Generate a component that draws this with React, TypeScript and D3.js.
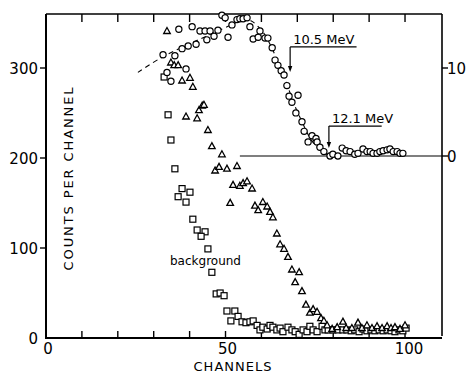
import React from "react";
import * as d3 from "d3";

const W = 466;
const H = 373;

// Signal (open circles), right-hand axis counts
const circleChannels = [32.6, 33.7, 34.8, 35.9, 37, 37.9, 39, 39.6, 40.7, 41.8, 42.9, 44.3, 44.8, 45.7, 46.8, 47.9, 49, 49.9, 50.7, 51.8, 53.2, 54, 54.9, 56, 56.8, 57.7, 59.1, 59.6, 61, 61.8, 63, 63.8, 64.6, 65.5, 66.3, 67.1, 67.7, 68.5, 69.6, 70.2, 71.3, 71.9, 73, 74.1, 75.2, 75.5, 76.3, 77.4, 79.1, 79.9, 81.3, 82.5, 83.6, 84.7, 86, 86.9, 88.3, 89.4, 90.3, 91.1, 92.2, 93, 93.9, 95, 95.8, 96.7, 97.8, 98.6, 99.4];
const circleCounts = [115, 95, 85, 114, 144, 122, 99, 125, 147, 127, 142, 142, 132, 142, 136, 143, 160, 157, 135, 149, 155, 156, 156, 157, 147, 133, 135, 142, 134, 134, 123, 109, 103, 97, 92, 80, 68, 61, 49, 69, 39, 28, 16, 23, 20, 16, 10, 5, 0, 2, 0, 9, 6, 5, 2, 3, 8, 5, 5, 3, 3, 5, 6, 7, 8, 5, 5, 3, 3];

// Dashed fit through the circles (right-hand axis)
const fitChannels = [25.6, 31.8, 38.7, 45.7, 52.1, 55.4, 57.4, 60.4, 62.4, 64.6, 66.9, 69.1, 71.3, 73.6, 75.8, 78.6];
const fitCounts = [95, 111, 125, 138, 150, 156, 153, 141, 127, 107, 84, 59, 39, 20, 9, 1];

// Triangles, left-hand axis counts
const triChannels = [33.7, 34.8, 35.7, 36.8, 37.9, 40.1, 40.9, 39, 42.1, 42.6, 43.5, 44, 45.1, 46.2, 49, 47.1, 48.2, 50.4, 53.2, 51.3, 52.1, 54, 54.9, 56, 57.4, 58.2, 59.1, 60.4, 61.6, 62.4, 63.2, 64.3, 65.2, 66.3, 67.4, 68.5, 70.5, 69.4, 71.3, 72.4, 73.5, 74.4, 75.5, 76.6, 77.4, 78.3, 79.7, 81.1, 82.7, 83.6, 85.2, 86.9, 88, 89.4, 90.8, 92.2, 93.6, 95, 96.1, 97.2, 98.6, 100];
const triCounts = [341, 306, 303, 303, 286, 289, 279, 246, 244, 253, 258, 259, 231, 213, 204, 186, 190, 188, 191, 150, 170, 169, 172, 174, 166, 147, 142, 151, 146, 140, 134, 116, 104, 99, 90, 76, 73, 62, 52, 37, 28, 32, 29, 22, 19, 14, 10, 12, 18, 11, 11, 17, 11, 14, 11, 13, 11, 13, 11, 12, 10, 14];

// Background (squares), left-hand axis counts
const bgChannels = [32.9, 34, 34.8, 35.9, 37.9, 40.1, 36.8, 39, 40.9, 42.1, 44.3, 43.2, 45.1, 46.2, 47.4, 48.5, 49.6, 50.4, 52.6, 51.5, 53.5, 54.6, 55.7, 56.8, 57.7, 58.8, 59.6, 60.4, 61.6, 62.4, 63.2, 64.3, 65.2, 66, 67.4, 68.5, 69.4, 70.5, 71.6, 72.7, 73.5, 74.4, 75.5, 76.9, 77.7, 78.6, 79.9, 81.3, 82.7, 83.8, 85, 86, 87.2, 88.3, 89.4, 90.5, 91.6, 92.8, 93.9, 95, 96.1, 97.2, 98.3, 99.4, 100.3];
const bgCounts = [290, 248, 220, 188, 166, 162, 157, 151, 132, 120, 118, 113, 99, 73, 49, 50, 47, 30, 30, 19, 24, 18, 17, 18, 19, 14, 9, 12, 10, 14, 12, 9, 11, 7, 12, 9, 7, 4, 9, 7, 13, 9, 7, 13, 9, 9, 9, 9, 9, 9, 8, 9, 7, 10, 8, 9, 8, 9, 8, 9, 8, 7, 9, 8, 11];

const xTicks = [0, 10, 20, 30, 40, 50, 60, 70, 80, 90, 100];
const xTickLabels = [0, 50, 100];
const yLeftTicks = [0, 100, 200, 300];
const yRightTicks = [0, 100];

const annotations = [
  { label: "10.5 MeV", channel: 68, tip: 95.5, shelf: 124, shelfEnd: 86.5 },
  { label: "12.1 MeV", channel: 78.8, tip: 9, shelf: 34, shelfEnd: 93.5 },
];

const FONT = "DejaVu Sans, sans-serif";

export default function App() {
  const left = 46, right = 442, top = 14, bottom = 338;
  const x = d3.scaleLinear().domain([0, 110.3]).range([left, right]);
  const yL = d3.scaleLinear().domain([0, 360]).range([bottom, top]);
  const yR = d3.scaleLinear().domain([0, 100]).range([156, 68]);

  const fitLine = d3
    .line<number>()
    .x((_, i) => x(fitChannels[i]))
    .y((d) => yR(d))
    .curve(d3.curveCatmullRom.alpha(0.5));

  const tickLen = 7;

  return (
    <svg
      width={W}
      height={H}
      style={{ position: "absolute", left: 0, top: 0, background: "#fff" }}
      fontFamily={FONT}
    >
      <rect x={0} y={0} width={W} height={H} fill="#fff" />
      {/* frame */}
      <g stroke="#000" fill="none">
        <line x1={left} y1={top} x2={right} y2={top} strokeWidth={1.6} />
        <line x1={left} y1={top} x2={left} y2={bottom} strokeWidth={2} />
        <line x1={left - 1} y1={bottom} x2={right} y2={bottom} strokeWidth={2} />
        <line x1={right} y1={top} x2={right} y2={bottom - 2} strokeWidth={1.6} />
        {/* right axis baseline */}
        <line x1={x(54)} y1={yR(0)} x2={right} y2={yR(0)} strokeWidth={1.2} />
      </g>
      {/* ticks */}
      <g stroke="#000" strokeWidth={1.4}>
        {xTicks.filter((t) => t > 0).map((t) => (
          <g key={"xt" + t}>
            <line x1={x(t)} x2={x(t)} y1={top} y2={top + tickLen + 1} />
            <line x1={x(t)} x2={x(t)} y1={bottom} y2={bottom - tickLen} />
          </g>
        ))}
        {yLeftTicks.filter((t) => t > 0).map((t) => (
          <line key={"yl" + t} x1={left - 6} x2={left} y1={yL(t)} y2={yL(t)} />
        ))}
        {yRightTicks.map((t) => (
          <line key={"yr" + t} x1={right} x2={right + 6} y1={yR(t)} y2={yR(t)} />
        ))}
      </g>
      {/* tick labels */}
      <g fontSize={15} fill="#000">
        {xTickLabels.map((t) => (
          <text key={"xl" + t} x={x(t) + (t === 100 ? 4 : 2)} y={354} textAnchor="middle">
            {t}
          </text>
        ))}
        {yLeftTicks.map((t) => (
          <text key={"yll" + t} x={38} y={yL(t) + 5.5} textAnchor="end">
            {t}
          </text>
        ))}
        {yRightTicks.map((t) => (
          <text key={"yrl" + t} x={447} y={yR(t) + 5.5} textAnchor="start">
            {t}
          </text>
        ))}
      </g>
      {/* axis titles */}
      <text
        x={233}
        y={371}
        textAnchor="middle"
        fontSize={13}
        letterSpacing={1}
        fill="#000"
      >
        CHANNELS
      </text>
      <text
        transform={`translate(73,178) rotate(-90)`}
        textAnchor="middle"
        fontSize={13}
        letterSpacing={1.9}
        fill="#000"
      >
        COUNTS PER CHANNEL
      </text>
      <text x={170} y={265} fontSize={12} fill="#000">
        background
      </text>

      {/* dashed fit */}
      <path d={fitLine(fitCounts) || ""} fill="none" stroke="#000" strokeWidth={1.1} strokeDasharray="5,4" />

      {/* background squares */}
      <g fill="#fff" stroke="#000" strokeWidth={1.2}>
        {bgChannels.map((c, i) => (
          <rect key={"b" + i} x={x(c) - 3} y={yL(bgCounts[i]) - 3} width={6} height={6} />
        ))}
      </g>
      {/* triangles */}
      <g fill="#fff" stroke="#000" strokeWidth={1.3} strokeLinejoin="miter">
        {triChannels.map((c, i) => {
          const cx = x(c);
          const cy = yL(triCounts[i]);
          return (
            <polygon
              key={"t" + i}
              points={`${cx},${cy - 3.6} ${cx - 3.3},${cy + 2.4} ${cx + 3.3},${cy + 2.4}`}
            />
          );
        })}
      </g>
      {/* circles */}
      <g fill="#fff" stroke="#000" strokeWidth={1.2}>
        {circleChannels.map((c, i) => (
          <circle key={"c" + i} cx={x(c)} cy={yR(circleCounts[i])} r={3.1} />
        ))}
      </g>

      {/* annotations */}
      {annotations.map((a) => {
        const ax = x(a.channel);
        const sy = yR(a.shelf);
        const ty = yR(a.tip);
        return (
          <g key={a.label}>
            <text x={ax + 3} y={sy - 3} fontSize={13} fill="#000">
              {a.label}
            </text>
            <line x1={ax} x2={x(a.shelfEnd)} y1={sy} y2={sy} stroke="#000" strokeWidth={1.2} />
            <line x1={ax} x2={ax} y1={sy} y2={ty - 4} stroke="#000" strokeWidth={1.2} />
            <polygon points={`${ax},${ty} ${ax - 2.2},${ty - 6} ${ax + 2.2},${ty - 6}`} fill="#000" />
          </g>
        );
      })}
    </svg>
  );
}
